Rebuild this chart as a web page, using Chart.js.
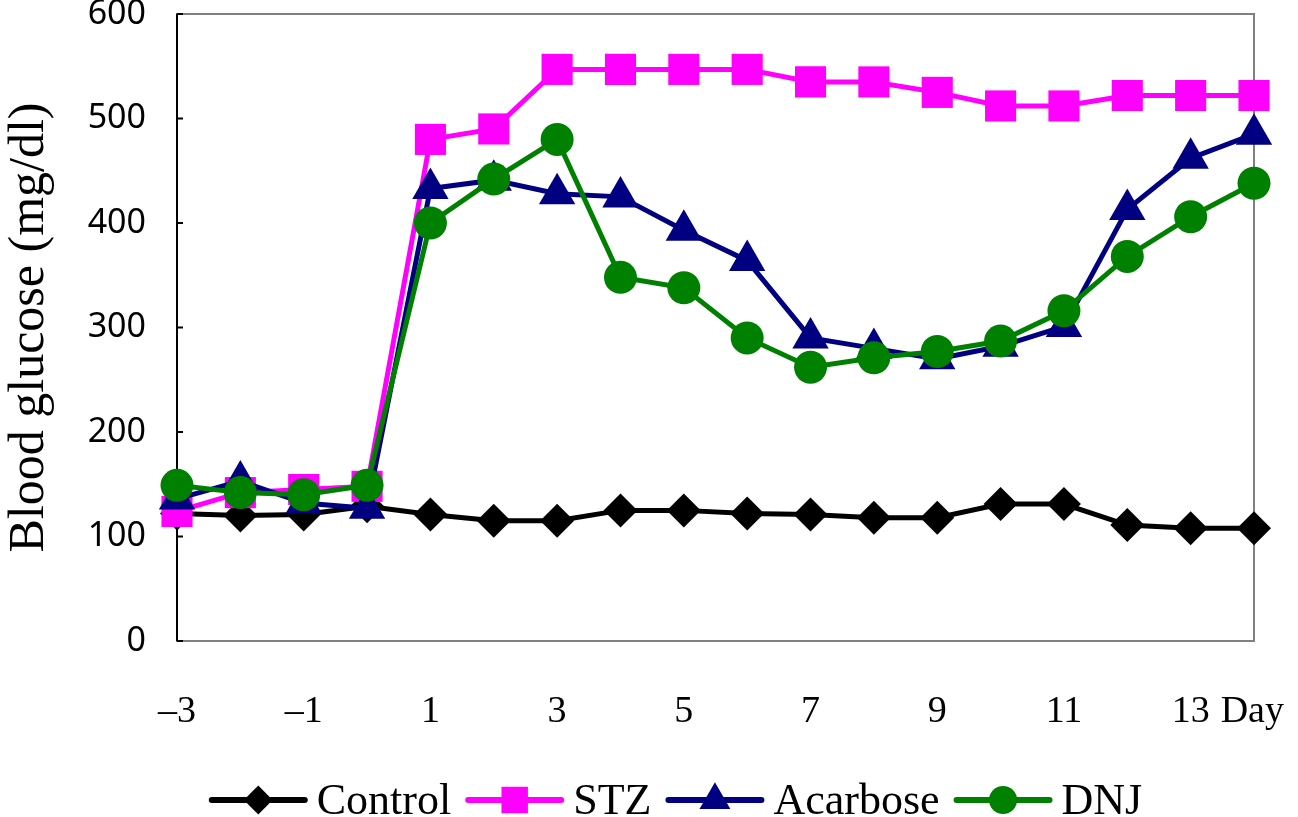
<!DOCTYPE html>
<html>
<head>
<meta charset="utf-8">
<script src="https://cdn.jsdelivr.net/npm/chart.js@4"></script>
<style>
body{margin:0;background:#fff}
canvas{display:block}
</style>
</head>
<body>
<canvas id="chart" width="1298" height="817"></canvas>
<script>
let days = [-3,-2,-1,0,1,2,3,4,5,6,7,8,9,10,11,12,13,14]
let xTicks = [-3,-1,1,3,5,7,9,11,13]
let yTicks = [0,100,200,300,400,500,600]

let control = [122,120,121,129,121,115,115,125,125,122,121,118,118,131,131,111,108,108]
let stz = [124,142,145,148,480,490,547,547,547,547,535,535,525,512,512,522,522,522]
let acarbose = [136,153,132,127,433,441,428,425,393,364,290,280,270,282,301,413,462,485]
let dnj = [149,142,140,149,400,442,480,348,338,290,262,271,277,287,316,368,406,438]

let names = ["Control","STZ","Acarbose","DNJ"]
let colors = ["#000000","#ff00ff","#000080","#008000"]
let shapes = ["rectRot","rect","triangle","circle"]
let radii = [17,22,21,16.5]

let series = [control,stz,acarbose,dnj]

let datasets = series.map((d,i)=>({
label:names[i],
data:d.map((v,j)=>({x:days[j],y:v})),
borderColor:colors[i],
backgroundColor:colors[i],
borderWidth:5,
pointStyle:shapes[i],
pointRadius:radii[i],
pointHoverRadius:radii[i],
pointBorderWidth:0,
order:4-i,
clip:false
}))

// box, inward y ticks, "Day" and the line+marker legend
const extras = {
id:"extras",
beforeDatasetsDraw(chart){
const {ctx, chartArea:a, scales:{y}} = chart
ctx.save()
ctx.strokeStyle="#808080"
ctx.lineWidth=2
ctx.strokeRect(a.left,a.top,a.right-a.left,a.bottom-a.top)
ctx.strokeStyle="#000"
ctx.beginPath()
ctx.moveTo(a.left,a.top)
ctx.lineTo(a.left,a.bottom)
y.ticks.forEach(t=>{
let py = y.getPixelForValue(t.value)
ctx.moveTo(a.left,py)
ctx.lineTo(a.left+6,py)
})
ctx.stroke()
ctx.restore()
},
afterDraw(chart){
const {ctx, scales:{x}} = chart
ctx.save()
ctx.fillStyle="#000"
ctx.textBaseline="middle"
ctx.textAlign="left"
ctx.font='38px "Liberation Serif"'
ctx.fillText("Day", x.getPixelForValue(13)+30, 712)

ctx.font='44px "Liberation Serif"'
let lineLen=93, gapText=12, gapItem=17
let ds = chart.data.datasets
let widths = ds.map(d=>ctx.measureText(d.label).width)
let total = widths.reduce((s,w)=>s+lineLen+gapText+w,0)+gapItem*(ds.length-1)
let cx = 677 - total/2
let cy = 800
ds.forEach((d,i)=>{
ctx.strokeStyle=d.borderColor
ctx.fillStyle=d.backgroundColor
ctx.lineWidth=6
ctx.lineCap="round"
ctx.beginPath()
ctx.moveTo(cx,cy)
ctx.lineTo(cx+lineLen,cy)
ctx.stroke()
Chart.helpers.drawPoint(ctx,{pointStyle:d.pointStyle,radius:d.pointRadius*0.85,rotation:0,borderWidth:0},cx+lineLen/2,cy)
ctx.fillStyle="#000"
ctx.fillText(d.label,cx+lineLen+gapText,cy+2)
cx += lineLen+gapText+widths[i]+gapItem
})
ctx.restore()
}
}

new Chart(document.getElementById("chart"),{
type:"line",
data:{datasets:datasets},
options:{
responsive:false,
animation:false,
devicePixelRatio:1,
layout:{autoPadding:false,padding:{left:0,right:44,top:14,bottom:80}},
plugins:{legend:{display:false},tooltip:{enabled:false}},
scales:{
x:{
type:"linear",
min:-3,
max:14,
grid:{display:false,drawTicks:false},
border:{display:false},
afterBuildTicks:s=>{s.ticks=xTicks.map(v=>({value:v}))},
ticks:{
padding:48,
autoSkip:false,
maxRotation:0,
color:"#000",
font:{family:'"Liberation Serif"',size:38},
callback:v=> v<0 ? "\u2013"+Math.abs(v) : ""+v
},
afterFit:s=>{s.height=96; s.paddingLeft=0; s.paddingRight=0}
},
y:{
min:0,
max:600,
grid:{display:false,drawTicks:false},
border:{display:false},
afterBuildTicks:s=>{s.ticks=yTicks.map(v=>({value:v}))},
ticks:{
padding:31,
color:"#000",
font:{family:'"Noto Sans"',size:34}
},
title:{
display:true,
text:"Blood glucose (mg/dl)",
color:"#000",
padding:0,
font:{family:'"Liberation Serif"',size:50}
},
afterFit:s=>{s.width=177; s.paddingTop=0; s.paddingBottom=0}
}
}
},
plugins:[extras]
})
</script>
</body>
</html>
